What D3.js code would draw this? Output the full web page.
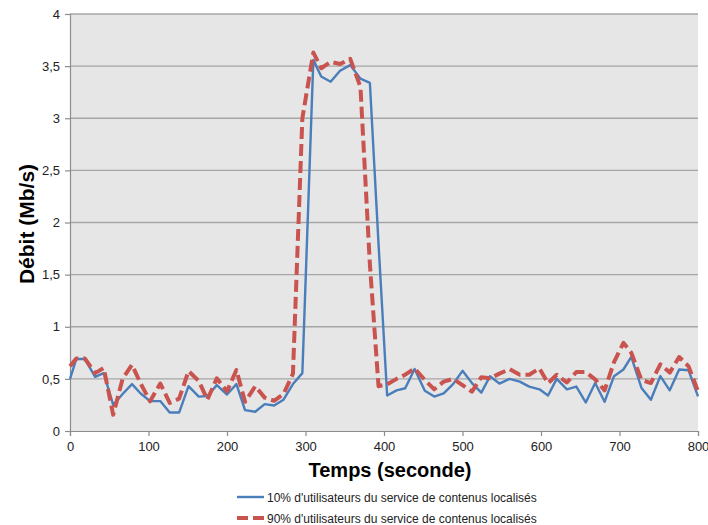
<!DOCTYPE html>
<html><head><meta charset="utf-8">
<script src="https://cdn.jsdelivr.net/npm/d3@7"></script>
<style>
body{margin:0;background:#fff;}
text{font-family:"Liberation Sans",Arial,sans-serif;}
</style></head>
<body>
<svg id="chart" width="708" height="525"></svg>
<script>
const times = [0,8,19,32,43,55,67,79,90,102,115,127,139,151,164,175,187,200,212,223,236,248,260,272,284,296,310,320,332,344,357,370,382,393,404,416,427,439,452,464,476,488,500,512,524,535,547,560,573,585,598,609,620,633,645,657,669,681,693,705,715,728,740,752,764,776,788,800];
const series10 = [0.50,0.69,0.69,0.52,0.555,0.25,0.355,0.45,0.36,0.287,0.287,0.177,0.177,0.43,0.33,0.335,0.44,0.35,0.45,0.20,0.185,0.258,0.245,0.30,0.45,0.555,3.56,3.40,3.35,3.455,3.51,3.38,3.34,1.8,0.34,0.39,0.41,0.594,0.387,0.33,0.36,0.45,0.577,0.46,0.368,0.525,0.455,0.50,0.474,0.426,0.40,0.34,0.50,0.40,0.426,0.274,0.46,0.28,0.526,0.59,0.71,0.413,0.30,0.526,0.39,0.59,0.583,0.333];
const series90 = [0.62,0.695,0.695,0.555,0.605,0.155,0.50,0.635,0.455,0.285,0.455,0.27,0.31,0.575,0.48,0.30,0.505,0.38,0.585,0.28,0.43,0.32,0.29,0.355,0.55,3.0,3.63,3.48,3.54,3.52,3.57,3.3,1.6,0.43,0.448,0.50,0.54,0.60,0.49,0.40,0.474,0.50,0.44,0.377,0.516,0.505,0.55,0.594,0.54,0.54,0.60,0.458,0.54,0.465,0.565,0.565,0.495,0.39,0.66,0.846,0.75,0.49,0.46,0.64,0.56,0.71,0.62,0.38];
const xTicks = [0,100,200,300,400,500,600,700,800];
const yTicks = [0,0.5,1,1.5,2,2.5,3,3.5,4];
const seriesNames = ["10% d'utilisateurs du service de contenus localisés","90% d'utilisateurs du service de contenus localisés"];
const xTitle = "Temps (seconde)";
const yTitle = "Débit (Mb/s)";

const svg = d3.select("#chart");
const L = 70, R = 698, T = 14, B = 431;
const x = d3.scaleLinear().domain([0,800]).range([L,R]);
const y = d3.scaleLinear().domain([0,4]).range([B,T]);
const fmt = v => String(v).replace(".", ",");

svg.append("rect").attr("x",L).attr("y",T).attr("width",R-L).attr("height",B-T).attr("fill","#e6e6e6");

// gridlines
svg.append("g").selectAll("line").data(yTicks.filter(v=>v>0)).join("line")
  .attr("x1",L).attr("x2",R).attr("y1",d=>y(d)).attr("y2",d=>y(d))
  .attr("stroke","#a6a6a6").attr("stroke-width",1.3);

// axes
const yAxis = svg.append("g").attr("transform",`translate(${L},0)`)
  .call(d3.axisLeft(y).tickValues(yTicks).tickFormat(fmt).tickSize(5).tickPadding(5));
const xAxis = svg.append("g").attr("transform",`translate(0,${B})`)
  .call(d3.axisBottom(x).tickValues(xTicks).tickSize(5).tickPadding(6));
[yAxis,xAxis].forEach(g=>{
  g.select(".domain").attr("stroke","#8c8c8c").attr("stroke-width",1.2);
  g.selectAll(".tick line").attr("stroke","#8c8c8c").attr("stroke-width",1.2);
  g.selectAll(".tick text").attr("fill","#222").style("font-size","13px").style("font-family","'Liberation Sans',Arial,sans-serif");
});

const line = d3.line().x(d=>x(d[0])).y(d=>y(d[1]));
const d10 = times.map((t,i)=>[t,series10[i]]);
const d90 = times.map((t,i)=>[t,series90[i]]);

svg.append("path").datum(d10).attr("d",line).attr("fill","none")
  .attr("stroke","#4a7ebb").attr("stroke-width",2.4).attr("stroke-linejoin","round");
svg.append("path").datum(d90).attr("d",line).attr("fill","none")
  .attr("stroke","#c9544f").attr("stroke-width",4).attr("stroke-dasharray","12,5").attr("stroke-linejoin","round");

// titles
svg.append("text").attr("x",390).attr("y",477).attr("text-anchor","middle")
  .style("font-size","20px").style("font-weight","bold").attr("fill","#000").text(xTitle);
svg.append("text").attr("transform",`translate(34,224) rotate(-90)`).attr("text-anchor","middle")
  .style("font-size","21px").style("font-weight","bold").attr("fill","#000").text(yTitle);

// legend
const leg = svg.append("g");
const ly = [497,518];
leg.append("line").attr("x1",237).attr("x2",264).attr("y1",ly[0]).attr("y2",ly[0]).attr("stroke","#4a7ebb").attr("stroke-width",2.4);
leg.append("line").attr("x1",237).attr("x2",265).attr("y1",ly[1]).attr("y2",ly[1]).attr("stroke","#c9544f").attr("stroke-width",4).attr("stroke-dasharray","11,5");
seriesNames.forEach((n,i)=>{
  leg.append("text").attr("x",267).attr("y",ly[i]+4.5).style("font-size","12px").attr("fill","#222").text(n);
});
</script>
</body></html>
